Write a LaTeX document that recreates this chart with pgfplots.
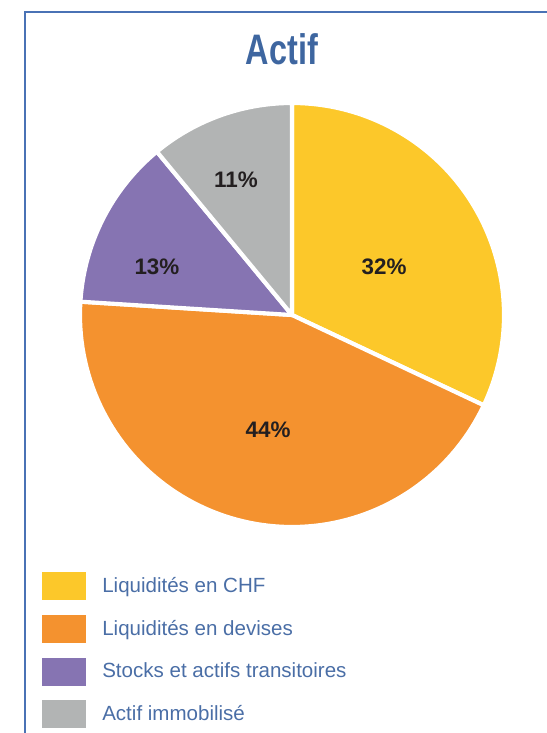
\documentclass[border=0pt]{standalone}
\usepackage{pgfplots}
\usepackage{pgfplotstable}
\pgfplotsset{compat=1.18}
\usepackage{fontspec}
\setmainfont{Liberation Sans}
\newfontfamily\titlefont[FakeStretch=0.76]{Liberation Sans}
\definecolor{cyellow}{HTML}{FCC82A}
\definecolor{corange}{HTML}{F4922F}
\definecolor{cpurple}{HTML}{8674B2}
\definecolor{cgrey}{HTML}{B2B4B4}
\definecolor{titleblue}{HTML}{3E66A0}
\definecolor{legendblue}{HTML}{4A6EA6}
\definecolor{framecol}{HTML}{4A72B5}
\definecolor{labeltext}{HTML}{231F20}

\pgfplotstableread[col sep=comma]{
label,value
Liquidités en CHF,32
Liquidités en devises,44
Stocks et actifs transitoires,13
Actif immobilisé,11
}\actifdata

\begin{document}
\begin{tikzpicture}[x=0.75pt,y=0.75pt]
\useasboundingbox (0,0) rectangle (547,733);
\draw[framecol, line width=0.9pt] (25,0) -- (25,721) -- (547,721);
\node[font=\titlefont\bfseries\fontsize{32}{32}\selectfont, text=titleblue, anchor=base, inner sep=0pt] at (282,668) {Actif};
\coordinate (pc) at (292,418);
\begin{axis}[
  at={(pc)}, anchor=center,
  scale only axis, width=318pt, height=318pt,
  xmin=-1, xmax=1, ymin=-1, ymax=1,
  hide axis, clip=false,
  legend style={at={(rel axis cs:-0.0896,-0.106)}, anchor=north west,
    draw=none, fill=none, inner sep=0pt, row sep=11pt,
    font=\fontsize{15.4}{15.4}\selectfont, text=legendblue,
    nodes={inner sep=0pt},
    /tikz/every odd column/.append style={column sep=12pt},
    cells={anchor=west}},
  legend image code/.code={\fill[#1,draw=none] (0,-10.5pt) rectangle (33pt,10.5pt);},
]
\def\cum{0}
\pgfplotsforeachungrouped \i/\c in {0/cyellow,1/corange,2/cpurple,3/cgrey}{%
  \pgfplotstablegetelem{\i}{value}\of\actifdata \let\val\pgfplotsretval
  \pgfplotstablegetelem{\i}{label}\of\actifdata \let\lab\pgfplotsretval
  \pgfmathsetmacro\aend{90-3.6*\cum}%
  \pgfmathsetmacro\cum{\cum+\val}%
  \pgfmathsetmacro\astart{90-3.6*\cum}%
  \edef\cmd{\noexpand\addplot[fill=\c, draw=white, line width=3.1pt, line join=round, domain=\astart:\aend, samples=90] ({cos(x)},{sin(x)}) -- (axis cs:0,0) -- cycle; \noexpand\addlegendentry{\lab}}%
  \cmd
}
\tikzset{lbl/.style={font=\bfseries\fontsize{16.8}{16.8}\selectfont, text=labeltext}}
\node[lbl] at (axis cs:0.434,0.226) {32\%};
\node[lbl] at (axis cs:-0.113,-0.542) {44\%};
\node[lbl] at (axis cs:-0.637,0.226) {13\%};
\node[lbl] at (axis cs:-0.264,0.637) {11\%};
\end{axis}
\end{tikzpicture}
\end{document}
